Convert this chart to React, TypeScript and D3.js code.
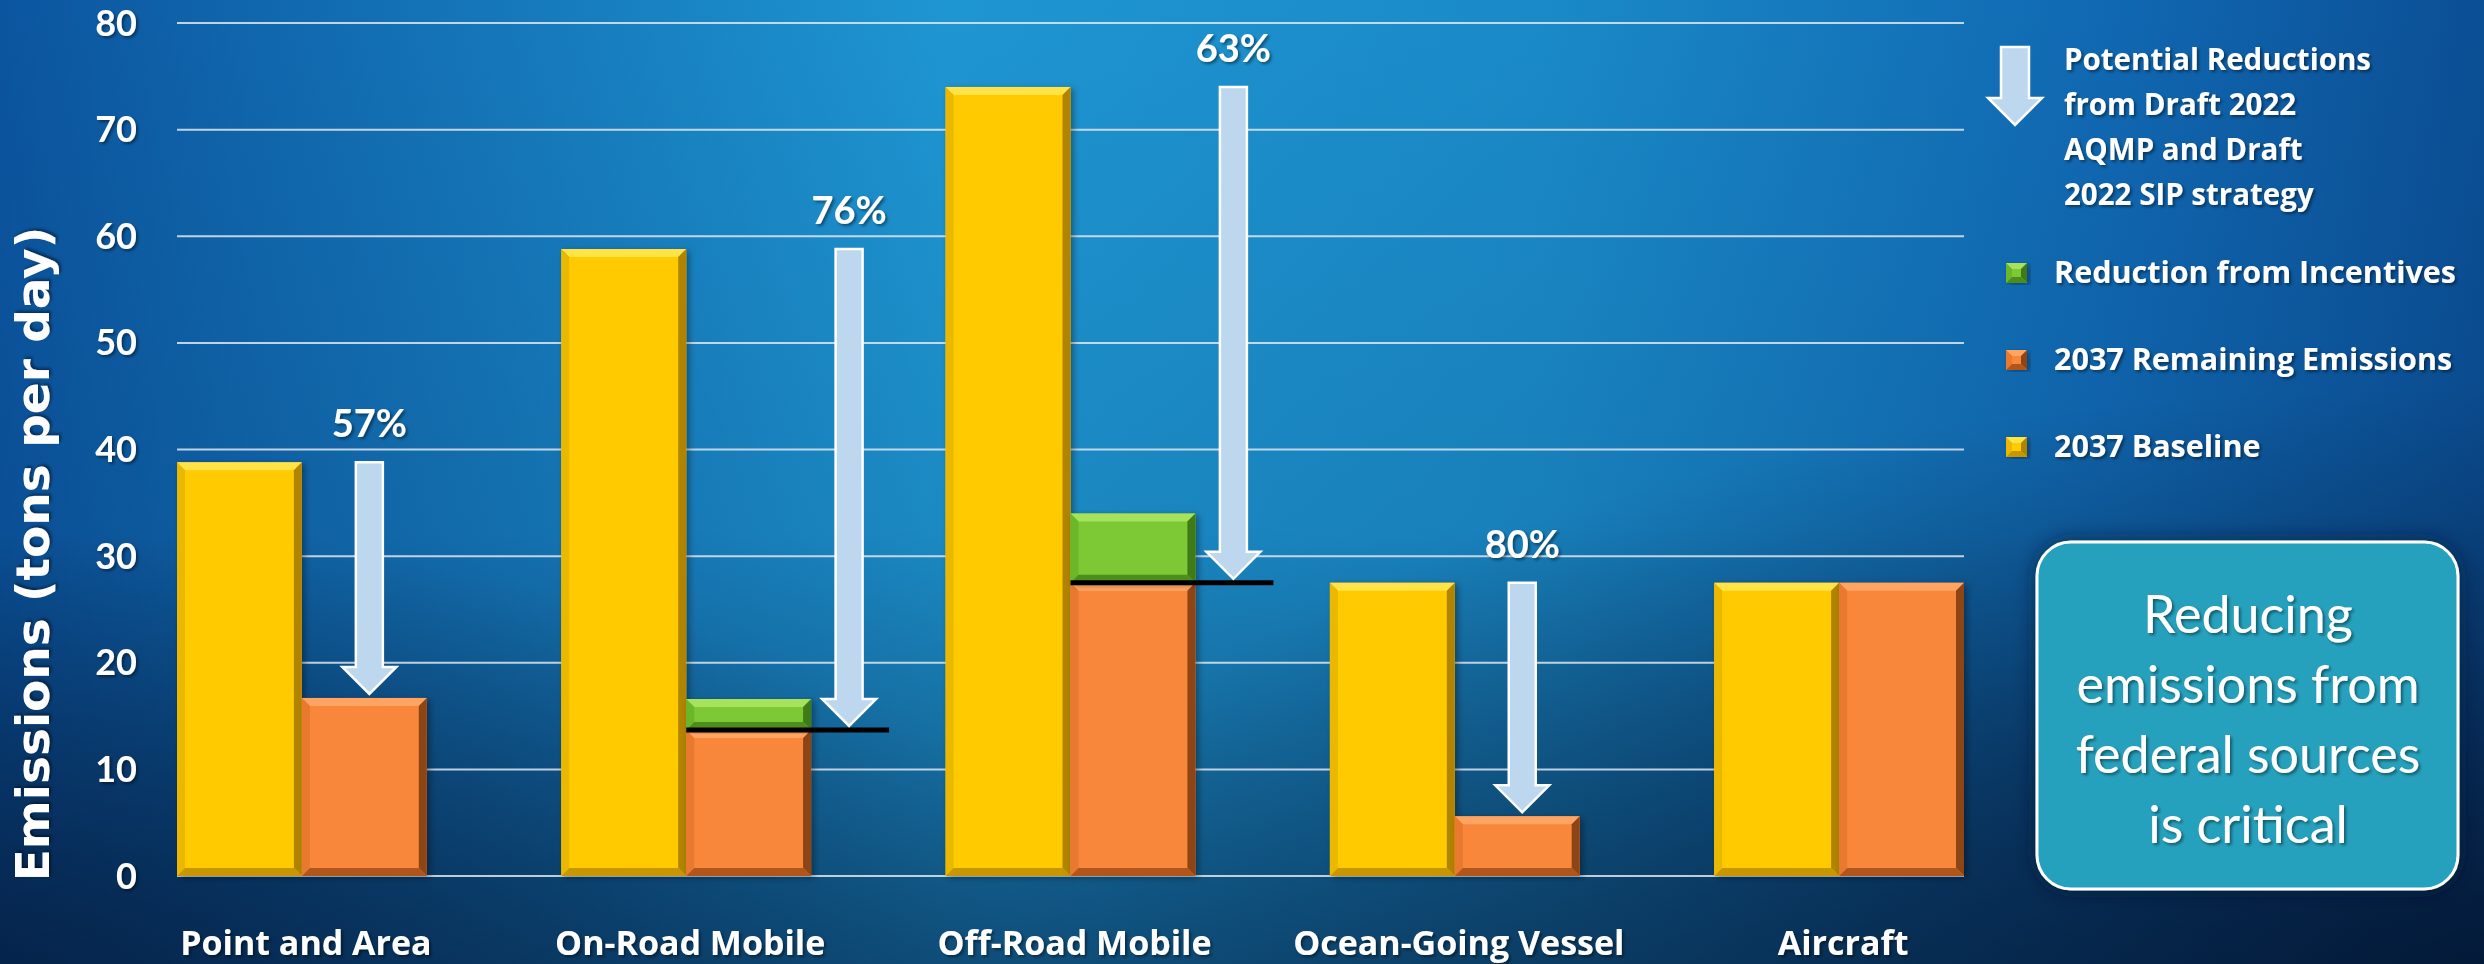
import * as d3 from "d3";

const categories = ["Point and Area", "On-Road Mobile", "Off-Road Mobile", "Ocean-Going Vessel", "Aircraft"];
const baseline2037 = [38.8, 58.8, 74, 27.5, 27.5];
const remaining2037 = [16.7, 13.7, 27.5, 5.6, 27.5];
const incentives = [0, 2.9, 6.5, 0, 0];
const reductionLabels = ["57%", "76%", "63%", "80%", ""];
const yTicks = [0, 10, 20, 30, 40, 50, 60, 70, 80];
const legendArrowLines = ["Potential Reductions", "from Draft 2022", "AQMP and Draft", "2022 SIP strategy"];
const legendItems = ["Reduction from Incentives", "2037 Remaining Emissions", "2037 Baseline"];
const calloutLines = ["Reducing", "emissions from", "federal sources", "is critical"];

const W = 2484;
const H = 964;
const FONT = "Lato, 'Open Sans', sans-serif";
const WIDE = "'Open Sans', Lato, sans-serif";

const YELLOW = { base: "#ffcb05", top: "#ffe347", left: "#eab800", right: "#b08400", bottom: "#c79600" };
const ORANGE = { base: "#f8873a", top: "#ffa462", left: "#e8792e", right: "#8e4414", bottom: "#b0561c" };
const GREEN = { base: "#7bc934", top: "#a6e25c", left: "#6cb62a", right: "#3f7a18", bottom: "#4e8d1f" };

type Pal = typeof YELLOW;

function BevelBar({ x, y, w, h, pal, b = 8 }: { x: number; y: number; w: number; h: number; pal: Pal; b?: number }) {
  const bb = Math.min(b, h / 3, w / 3);
  const x2 = x + w;
  const y2 = y + h;
  const p = (pts: number[][]) => pts.map((q) => q.join(",")).join(" ");
  return (
    <g filter="url(#barShadow)">
      <rect x={x} y={y} width={w} height={h} fill={pal.base} />
      <polygon points={p([[x, y], [x2, y], [x2 - bb, y + bb], [x + bb, y + bb]])} fill={pal.top} />
      <polygon points={p([[x, y], [x + bb, y + bb], [x + bb, y2 - bb], [x, y2]])} fill={pal.left} />
      <polygon points={p([[x2, y], [x2, y2], [x2 - bb, y2 - bb], [x2 - bb, y + bb]])} fill={pal.right} />
      <polygon points={p([[x, y2], [x + bb, y2 - bb], [x2 - bb, y2 - bb], [x2, y2]])} fill={pal.bottom} />
    </g>
  );
}

function DownArrow({ cx, top, tip, shaft = 27, head = 54, headLen = 27 }: { cx: number; top: number; tip: number; shaft?: number; head?: number; headLen?: number }) {
  const s = shaft / 2;
  const hw = head / 2;
  const hy = tip - headLen;
  const pts = [
    [cx - s, top], [cx + s, top], [cx + s, hy], [cx + hw, hy], [cx, tip], [cx - hw, hy], [cx - s, hy],
  ].map((q) => q.join(",")).join(" ");
  return <polygon points={pts} fill="#bdd7ee" stroke="#ffffff" strokeWidth={2.5} strokeLinejoin="miter" />;
}

export default function App() {
  const y = d3.scaleLinear().domain([0, 80]).range([876, 23]);
  const x = d3.scaleBand<string>().domain(categories).range([177, 1964]).paddingInner(0.35).paddingOuter(0);
  const inner = d3.scaleBand<string>().domain(["baseline", "remaining"]).range([0, x.bandwidth()]).padding(0);
  const plotLeft = 177;
  const plotRight = 1964;

  return (
    <svg width={W} height={H} style={{ position: "absolute", left: 0, top: 0, display: "block" }}>
      <defs>
        <linearGradient id="bgH" x1="0" x2="1" y1="0" y2="0">
          <stop offset="0" stopColor="#0b559f" />
          <stop offset="0.38" stopColor="#1e96d2" />
          <stop offset="0.62" stopColor="#1a8ac8" />
          <stop offset="0.85" stopColor="#1068b2" />
          <stop offset="1" stopColor="#0b4f95" />
        </linearGradient>
        <linearGradient id="bgV" x1="0" x2="0" y1="0" y2="1">
          <stop offset="0" stopColor="#041a3a" stopOpacity="0" />
          <stop offset="0.55" stopColor="#041a3a" stopOpacity="0.1" />
          <stop offset="1" stopColor="#041a3a" stopOpacity="0.55" />
        </linearGradient>
        <radialGradient id="bgCorner" cx="1" cy="1" r="0.6">
          <stop offset="0" stopColor="#020f26" stopOpacity="0.7" />
          <stop offset="1" stopColor="#020f26" stopOpacity="0" />
        </radialGradient>
        <radialGradient id="bgLeft" cx="0" cy="1" r="0.45">
          <stop offset="0" stopColor="#031634" stopOpacity="0.55" />
          <stop offset="1" stopColor="#031634" stopOpacity="0" />
        </radialGradient>
        <filter id="txtShadow" x="-10%" y="-20%" width="130%" height="150%">
          <feDropShadow dx="2" dy="2" stdDeviation="1.5" floodColor="#000" floodOpacity="0.45" />
        </filter>
        <filter id="barShadow" x="-10%" y="-5%" width="125%" height="115%">
          <feDropShadow dx="3" dy="2" stdDeviation="3" floodColor="#000" floodOpacity="0.35" />
        </filter>
        <filter id="boxShadow" x="-15%" y="-15%" width="130%" height="130%">
          <feDropShadow dx="0" dy="0" stdDeviation="10" floodColor="#001a33" floodOpacity="0.7" />
        </filter>
      </defs>

      {/* background */}
      <rect width={W} height={H} fill="url(#bgH)" />
      <rect width={W} height={H} fill="url(#bgV)" />
      <rect width={W} height={H} fill="url(#bgCorner)" />
      <rect width={W} height={H} fill="url(#bgLeft)" />

      {/* gridlines */}
      {yTicks.map((t) => (
        <line key={t} x1={plotLeft} x2={plotRight} y1={y(t)} y2={y(t)} stroke="#dfe6ee" strokeOpacity={0.85} strokeWidth={2} />
      ))}

      {/* y tick labels */}
      <g filter="url(#txtShadow)" fill="#fff" fontFamily={FONT} fontWeight={700} fontSize={36}>
        {yTicks.map((t) => (
          <text key={t} x={137} y={y(t)} dy="0.35em" textAnchor="end">{t}</text>
        ))}
      </g>

      {/* y axis title */}
      <text
        transform="translate(49,554) rotate(-90)"
        textAnchor="middle"
        fill="#fff"
        fontFamily="'DejaVu Sans', Verdana, sans-serif"
        fontWeight={700}
        fontSize={47}
        filter="url(#txtShadow)"
      >
        Emissions (tons per day)
      </text>

      {/* bars */}
      {categories.map((c, i) => {
        const x0 = x(c)!;
        const xb = x0 + inner("baseline")!;
        const xr = x0 + inner("remaining")!;
        const bw = inner.bandwidth();
        return (
          <g key={c}>
            <BevelBar x={xb} y={y(baseline2037[i])} w={bw} h={y(0) - y(baseline2037[i])} pal={YELLOW} />
            <BevelBar x={xr} y={y(remaining2037[i])} w={bw} h={y(0) - y(remaining2037[i])} pal={ORANGE} />
            {incentives[i] > 0 && (
              <BevelBar
                x={xr}
                y={y(remaining2037[i] + incentives[i])}
                w={bw}
                h={y(remaining2037[i]) - y(remaining2037[i] + incentives[i])}
                pal={GREEN}
              />
            )}
          </g>
        );
      })}

      {/* reduction arrows, reference lines and percentages */}
      {categories.map((c, i) => {
        if (!reductionLabels[i]) return null;
        const xr = x(c)! + inner("remaining")!;
        const bw = inner.bandwidth();
        const hasInc = incentives[i] > 0;
        const cx = hasInc ? xr + bw + 38 : xr + bw / 2 + 5;
        const top = y(baseline2037[i]);
        const target = y(remaining2037[i]);
        return (
          <g key={c}>
            {hasInc && <line x1={xr} x2={cx + 40} y1={target} y2={target} stroke="#000" strokeWidth={5} />}
            <DownArrow cx={cx} top={top} tip={target - 4} />
            <text
              x={cx}
              y={top - 25}
              textAnchor="middle"
              fill="#fff"
              fontFamily={FONT}
              fontWeight={700}
              fontSize={38}
              filter="url(#txtShadow)"
            >
              {reductionLabels[i]}
            </text>
          </g>
        );
      })}

      {/* category labels */}
      <g fill="#fff" fontFamily={WIDE} fontWeight={700} fontSize={34} filter="url(#txtShadow)">
        {categories.map((c) => (
          <text key={c} x={x(c)! + x.bandwidth() / 2 + 4} y={955} textAnchor="middle">{c}</text>
        ))}
      </g>

      {/* legend */}
      <DownArrow cx={2015} top={47} tip={125} shaft={28} head={54} headLen={27} />
      <g fill="#fff" fontFamily={WIDE} fontWeight={700} fontSize={29.5} filter="url(#txtShadow)">
        {legendArrowLines.map((l, k) => (
          <text key={l} x={2064} y={70 + k * 45}>{l}</text>
        ))}
      </g>
      {legendItems.map((l, k) => {
        const pal = [GREEN, ORANGE, YELLOW][k];
        const cy = 273 + k * 87;
        return (
          <g key={l}>
            <BevelBar x={2006} y={cy - 10} w={21} h={20} pal={pal} b={6} />
            <text x={2054} y={cy + 10} fill="#fff" fontFamily={WIDE} fontWeight={700} fontSize={30.5} filter="url(#txtShadow)">{l}</text>
          </g>
        );
      })}

      {/* callout box */}
      <rect x={2037} y={542} width={421} height={347} rx={34} ry={34} fill="#26a1bd" stroke="#ffffff" strokeWidth={3} filter="url(#boxShadow)" />
      <g fill="#fff" fontFamily={FONT} fontSize={52} textAnchor="middle" filter="url(#txtShadow)">
        {calloutLines.map((l, k) => (
          <text key={l} x={2248} y={633 + k * 70}>{l}</text>
        ))}
      </g>
    </svg>
  );
}
